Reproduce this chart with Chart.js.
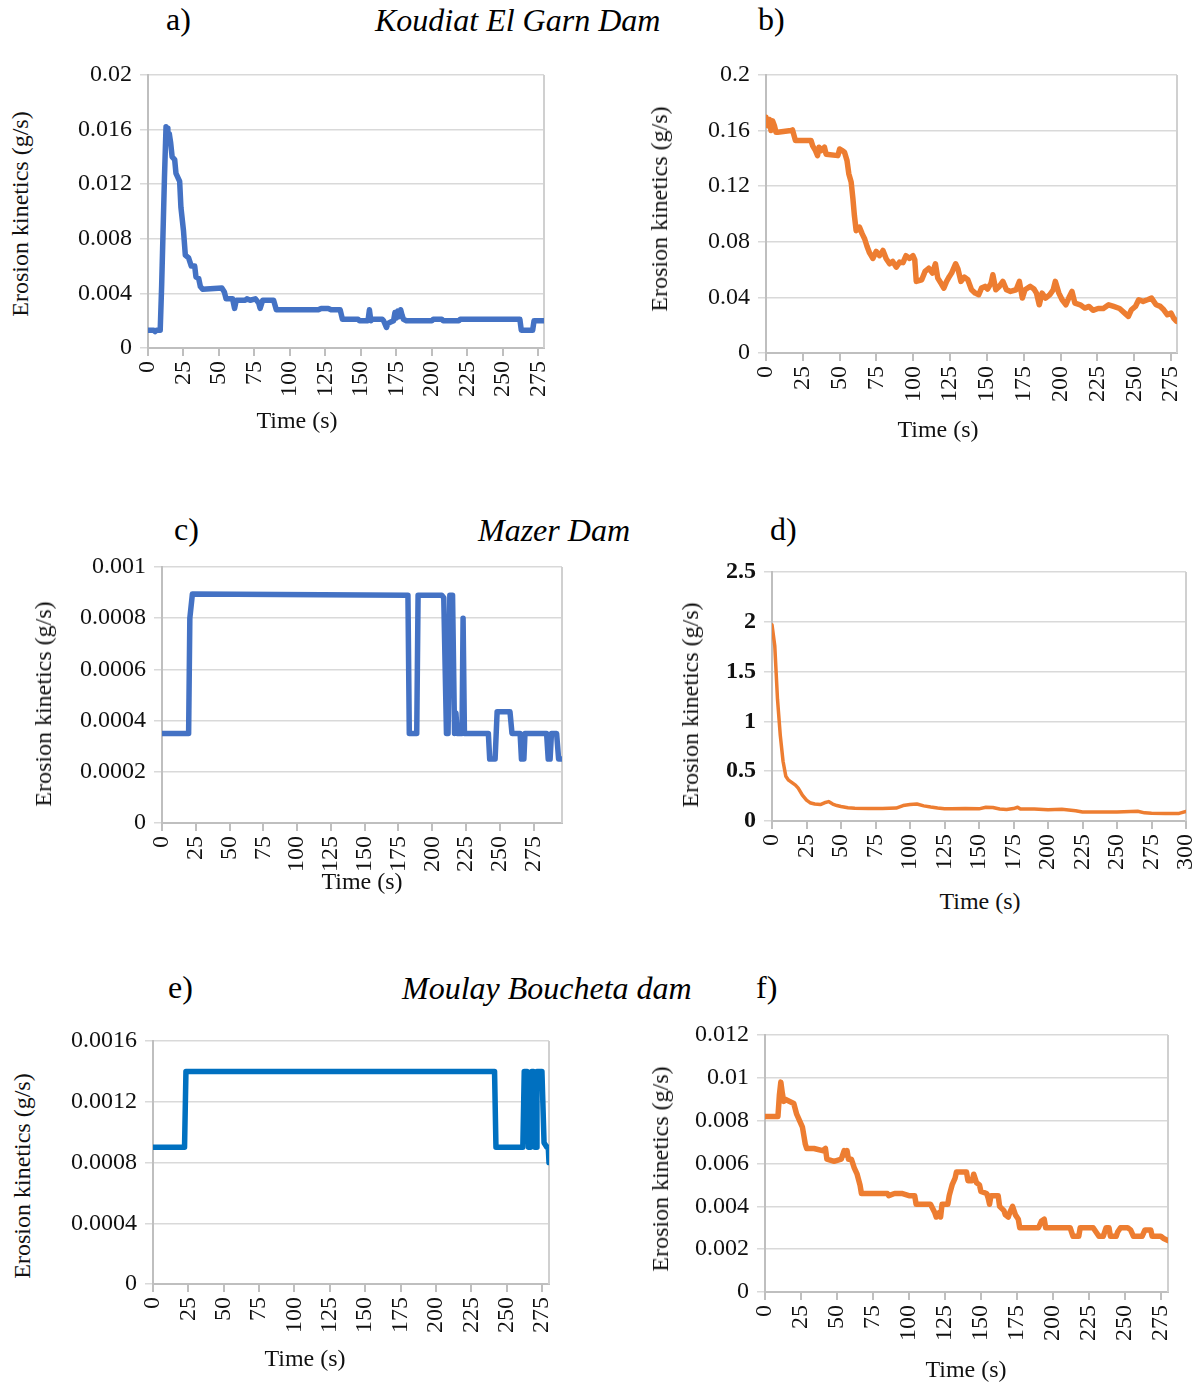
<!DOCTYPE html>
<html>
<head>
<meta charset="utf-8">
<title>Erosion kinetics</title>
<script src="https://cdn.jsdelivr.net/npm/chart.js@4.4.1/dist/chart.umd.min.js"></script>
<style>
  body { margin: 0; background: #fff; }
  #page {
    position: relative;
    width: 1204px;
    height: 1385px;
    background: #fff;
    font-family: "Liberation Serif", "Times New Roman", serif;
    color: #000;
    overflow: hidden;
  }
  #page canvas { position: absolute; }
  .tag, .dam {
    position: absolute;
    font-size: 32px;
    line-height: 38px;
    white-space: nowrap;
  }
  .dam { font-style: italic; }
  .axis-title {
    position: absolute;
    font-size: 24px;
    line-height: 28px;
    white-space: nowrap;
    color: #111;
    transform: translate(-50%, -50%);
  }
  .axis-title.vertical { transform: translate(-50%, -50%) rotate(-90deg); }
</style>
</head>
<body>
<div id="page">
  <div class="tag" style="left:166px;top:0px">a)</div>
  <div class="dam" style="left:375px;top:1px">Koudiat El Garn Dam</div>
  <div class="tag" style="left:758px;top:0px">b)</div>
  <div class="tag" style="left:174px;top:510px">c)</div>
  <div class="dam" style="left:478px;top:511px">Mazer Dam</div>
  <div class="tag" style="left:770px;top:510px">d)</div>
  <div class="tag" style="left:168px;top:968px">e)</div>
  <div class="dam" style="left:402px;top:969px">Moulay Boucheta dam</div>
  <div class="tag" style="left:756px;top:968px">f)</div>
</div>

<script>
// tick labels
const timeTicks = ["0", "25", "50", "75", "100", "125", "150", "175", "200", "225", "250", "275"];
const timeTicks300 = ["0", "25", "50", "75", "100", "125", "150", "175", "200", "225", "250", "275", "300"];
const rateTicksA = ["0", "0.004", "0.008", "0.012", "0.016", "0.02"];
const rateTicksB = ["0", "0.04", "0.08", "0.12", "0.16", "0.2"];
const rateTicksC = ["0", "0.0002", "0.0004", "0.0006", "0.0008", "0.001"];
const rateTicksD = ["0", "0.5", "1", "1.5", "2", "2.5"];
const rateTicksE = ["0", "0.0004", "0.0008", "0.0012", "0.0016"];
const rateTicksF = ["0", "0.002", "0.004", "0.006", "0.008", "0.01", "0.012"];

// a) Koudiat El Garn Dam, first sample
const timeA = [
  0, 4, 5, 6, 8.6, 9.6, 10.6, 11.6, 12.7, 13.5,
  14, 15, 16, 17, 18.8, 19.7, 21, 22.3, 23.2, 25,
  26.3, 28.6, 30.5, 32.9, 33.8, 35.7, 36.9, 38.5, 52, 53.8,
  55, 59.6, 61, 62.2, 68.5, 69.7, 72, 75.6, 78, 79,
  80.8, 88.5, 90.4, 120, 122, 127, 129, 135.4, 137, 148,
  149, 155, 156, 157, 158, 165, 166, 168, 169, 171,
  173, 174, 175, 176, 177, 178, 179, 180, 182, 200,
  201, 207, 208, 219, 220, 262, 263, 271, 272, 279
];
const rateA = [
  0.0013, 0.0013, 0.0012, 0.0013, 0.0013, 0.0045, 0.0085, 0.0125, 0.0162, 0.0161,
  0.0155, 0.0157, 0.015, 0.014, 0.0138, 0.0128, 0.0125, 0.0122, 0.0103, 0.0086,
  0.0068, 0.0066, 0.006, 0.006, 0.0052, 0.0051, 0.0045, 0.0043, 0.0044, 0.0041,
  0.0036, 0.0036, 0.0029, 0.0035, 0.0035, 0.0036, 0.0035, 0.0036, 0.0033, 0.0029,
  0.0035, 0.0035, 0.0028, 0.0028, 0.0029, 0.0029, 0.0028, 0.0028, 0.0021, 0.0021,
  0.002, 0.002, 0.0028, 0.002, 0.0021, 0.0021, 0.002, 0.0015, 0.0018, 0.0019,
  0.002, 0.0026, 0.0022, 0.0027, 0.0023, 0.0028, 0.0024, 0.0021, 0.002, 0.002,
  0.0021, 0.0021, 0.002, 0.002, 0.0021, 0.0021, 0.0013, 0.0013, 0.002, 0.002
];

// b) Koudiat El Garn Dam, second sample
const timeB = [
  0, 1.1, 2.3, 3.4, 4.5, 5.7, 6.8, 7.9, 17, 18,
  20, 30.6, 31.7, 33.6, 35, 36, 37.4, 39.7, 40.8, 48.8,
  50, 51.7, 53.3, 55, 56.2, 57.8, 59, 60, 61.2, 63.5,
  65.3, 67, 68.5, 70.3, 72.6, 74.8, 77, 79.4, 81.6, 83.9,
  86, 88.4, 90.7, 93, 95, 97.5, 99.8, 101, 102, 105.7,
  108, 110.5, 113, 115, 116.6, 119, 120.7, 122.6, 124.5, 126,
  128.7, 130.3, 132.3, 134.7, 137, 139.5, 142, 144.4, 146.3, 148.7,
  150.4, 152.8, 154, 156, 158.4, 160.8, 163.2, 166, 169.8, 172,
  174, 175.8, 179.4, 181.9, 183.6, 185.5, 187.4, 189.8, 192.7, 195,
  196.4, 198.8, 201, 203.6, 206, 207.7, 209.7, 213.3, 216.4, 219.3,
  222, 225.4, 229, 232.6, 236, 240, 243.5, 246, 248, 250.8,
  253, 256, 259, 261.7, 264.8, 267.7, 270, 272.5, 275, 276.7,
  278.6
];
const rateB = [
  0.1696, 0.1636, 0.168, 0.16, 0.167, 0.1636, 0.1588, 0.1588, 0.16, 0.1605,
  0.1528, 0.1528, 0.149, 0.1456, 0.142, 0.148, 0.1456, 0.148, 0.143, 0.142,
  0.1468, 0.1456, 0.1444, 0.1384, 0.129, 0.123, 0.111, 0.099, 0.088, 0.0905,
  0.0857, 0.082, 0.077, 0.072, 0.068, 0.0731, 0.07, 0.0738, 0.0678, 0.0642,
  0.0659, 0.0618, 0.0654, 0.065, 0.07, 0.068, 0.07, 0.067, 0.0515, 0.0527,
  0.0587, 0.061, 0.0575, 0.0642, 0.0539, 0.0498, 0.0467, 0.0515, 0.0551, 0.0575,
  0.0642, 0.0605, 0.0515, 0.0546, 0.0527, 0.0455, 0.0431, 0.0419, 0.0467, 0.0479,
  0.046, 0.0503, 0.0563, 0.0455, 0.0479, 0.0515, 0.0455, 0.0443, 0.0455, 0.0515,
  0.0395, 0.0455, 0.0479, 0.046, 0.0431, 0.0347, 0.0431, 0.0395, 0.042, 0.0455,
  0.0515, 0.0431, 0.0383, 0.0347, 0.0407, 0.0443, 0.0359, 0.0347, 0.0323, 0.0335,
  0.0307, 0.032, 0.032, 0.0347, 0.0335, 0.032, 0.0287, 0.0263, 0.0311, 0.0335,
  0.0383, 0.0371, 0.0383, 0.0395, 0.0347, 0.0335, 0.0311, 0.0275, 0.0287, 0.0251,
  0.0228
];

// c) Mazer Dam, first sample
const timeC = [
  0, 19.7, 20.6, 22.5, 182, 183, 188.5, 189.5, 207, 208.5,
  210.5, 211.7, 213, 215, 216.5, 217.5, 218.5, 222, 222.8, 223.8,
  241.5, 242.5, 246.5, 248, 257.5, 259, 265, 266, 267.8, 268.6,
  284.6, 285.8, 287.2, 288.2, 292, 293.5, 296
];
const rateC = [
  0.00035, 0.00035, 0.0008, 0.000895, 0.00089, 0.00035, 0.00035, 0.00089, 0.00089, 0.00088,
  0.00035, 0.00035, 0.00089, 0.00089, 0.00035, 0.00043, 0.00035, 0.00035, 0.0008, 0.00035,
  0.00035, 0.00025, 0.00025, 0.000435, 0.000435, 0.00035, 0.00035, 0.00025, 0.00025, 0.00035,
  0.00035, 0.00025, 0.00025, 0.00035, 0.00035, 0.00025, 0.00025
];

// d) Mazer Dam, second sample
const timeD = [
  0, 2, 4, 6, 8, 10, 12, 14, 17, 19,
  22, 25, 28, 31, 35, 38, 41, 44, 47, 50,
  55, 60, 70, 80, 90, 95, 100, 105, 110, 115,
  120, 125, 130, 140, 150, 155, 160, 165, 170, 175,
  178, 180, 190, 200, 210, 215, 220, 225, 230, 240,
  250, 260, 265, 270, 275, 285, 295, 300
];
const rateD = [
  1.97, 1.76, 1.22, 0.86, 0.6, 0.45, 0.41, 0.39, 0.36, 0.33,
  0.26, 0.21, 0.18, 0.17, 0.165, 0.183, 0.195, 0.17, 0.155, 0.145,
  0.133, 0.128, 0.126, 0.126, 0.13, 0.155, 0.165, 0.17, 0.152, 0.14,
  0.13, 0.123, 0.122, 0.126, 0.122, 0.138, 0.135, 0.12, 0.115, 0.125,
  0.138, 0.12, 0.12, 0.113, 0.118, 0.11, 0.102, 0.09, 0.09, 0.09,
  0.09, 0.095, 0.098, 0.082, 0.078, 0.075, 0.076, 0.095
];

// e) Moulay Boucheta dam, first sample
const timeE = [
  0, 22.3, 23.3, 241.5, 242.5, 261.5, 262.5, 264.5, 265.5, 267,
  267.8, 269, 270, 271, 271.5, 275, 276.5, 278.5, 279.5, 280
];
const rateE = [
  0.0009, 0.0009, 0.0014, 0.0014, 0.0009, 0.0009, 0.0014, 0.0014, 0.0009, 0.0009,
  0.0014, 0.0014, 0.0009, 0.0009, 0.0014, 0.0014, 0.00093, 0.0009, 0.0009, 0.0008
];

// f) Moulay Boucheta dam, second sample
const timeF = [
  0, 9, 10, 11, 12, 13, 14, 20, 22, 24,
  26, 27, 28, 29, 34, 40, 42, 43, 48, 53,
  55, 56, 57, 58, 60, 62, 64, 66, 67, 85,
  86, 90, 95, 100, 104, 105, 115, 118, 119, 121,
  122, 123, 127, 128, 130, 132, 133, 140, 141, 144,
  145, 147, 149, 150, 154, 155, 156, 157, 162, 163,
  166, 167, 169, 170, 172, 174, 176, 177, 190, 192,
  194, 195, 212, 214, 218, 219, 228, 230, 232, 235,
  237, 239, 240, 244, 245, 247, 252, 254, 256, 262,
  264, 268, 269, 275, 277, 280
];
const rateF = [
  0.0082, 0.0082, 0.0092, 0.0098, 0.0093, 0.0089, 0.009, 0.0088, 0.0083, 0.008,
  0.0077, 0.0073, 0.0069, 0.0067, 0.0067, 0.0066, 0.0067, 0.0062, 0.0061, 0.0062,
  0.0066, 0.0064, 0.0066, 0.0062, 0.0062, 0.0058, 0.0055, 0.005, 0.0046, 0.0046,
  0.0045, 0.0046, 0.0046, 0.0045, 0.0045, 0.0041, 0.0041, 0.0037, 0.0035, 0.0037,
  0.0035, 0.0041, 0.0041, 0.0045, 0.005, 0.0053, 0.0056, 0.0056, 0.0052, 0.0052,
  0.0055, 0.0051, 0.005, 0.0047, 0.0046, 0.0044, 0.0041, 0.0045, 0.0045, 0.004,
  0.0038, 0.0036, 0.0035, 0.0037, 0.004, 0.0036, 0.0034, 0.003, 0.003, 0.0033,
  0.0034, 0.003, 0.003, 0.0026, 0.0026, 0.003, 0.003, 0.0028, 0.0026, 0.0026,
  0.003, 0.003, 0.0026, 0.0026, 0.0028, 0.003, 0.003, 0.0029, 0.0026, 0.0026,
  0.0029, 0.0029, 0.0026, 0.0026, 0.0025, 0.0024
];

const BLUE = "#4472c4";
const DEEP_BLUE = "#0070c0";
const ORANGE = "#ed7d31";
const FONT = "Liberation Serif";

// plot box [left, top, right, bottom] in page pixels; yTitle / xTitle are the caption centres
const panels = [
  { box: [148, 75, 544, 348], yTitle: [20, 214], xTitle: [297, 420], xMax: 279,
    times: timeA, rates: rateA, xLabels: timeTicks, yLabels: rateTicksA, color: BLUE, width: 5.5 },
  { box: [766, 75, 1177, 353], yTitle: [659, 209], xTitle: [938, 429], xMax: 279,
    times: timeB, rates: rateB, xLabels: timeTicks, yLabels: rateTicksB, color: ORANGE, width: 5.5 },
  { box: [162, 567, 562, 823], yTitle: [43, 704], xTitle: [362, 881], xMax: 296,
    times: timeC, rates: rateC, xLabels: timeTicks, yLabels: rateTicksC, color: BLUE, width: 5.5 },
  { box: [772, 572, 1186, 821], yTitle: [690, 705], xTitle: [980, 901], xMax: 300,
    times: timeD, rates: rateD, xLabels: timeTicks300, yLabels: rateTicksD, color: ORANGE, width: 3.5, boldY: true },
  { box: [153, 1041, 549, 1284], yTitle: [22, 1176], xTitle: [305, 1358], xMax: 280,
    times: timeE, rates: rateE, xLabels: timeTicks, yLabels: rateTicksE, color: DEEP_BLUE, width: 5.5 },
  { box: [765, 1035, 1168, 1292], yTitle: [660, 1169], xTitle: [966, 1369], xMax: 280,
    times: timeF, rates: rateF, xLabels: timeTicks, yLabels: rateTicksF, color: ORANGE, width: 5.5 }
];

// room Chart.js asks for around the tick labels
const PAD_TOP = 24;
const PAD_RIGHT = 36;
const PAD_BOTTOM = 4;
const Y_SCALE_WIDTH = 110;
const X_SCALE_HEIGHT = 60;

// right edge of the plot area
const plotFrame = {
  id: "plotFrame",
  beforeDatasetsDraw(chart) {
    const { ctx, chartArea } = chart;
    ctx.save();
    ctx.strokeStyle = "#d0d0d0";
    ctx.lineWidth = 2;
    ctx.beginPath();
    ctx.moveTo(chartArea.right, chartArea.top);
    ctx.lineTo(chartArea.right, chartArea.bottom);
    ctx.stroke();
    ctx.restore();
  }
};

const page = document.getElementById("page");

function addCaption(text, pos, vertical) {
  const el = document.createElement("div");
  el.className = vertical ? "axis-title vertical" : "axis-title";
  el.textContent = text;
  el.style.left = pos[0] + "px";
  el.style.top = pos[1] + "px";
  page.appendChild(el);
}

function drawPanel(p) {
  const [l, t, r, b] = p.box;
  const left = l - Y_SCALE_WIDTH;
  const top = t - PAD_TOP;
  const width = r - left + PAD_RIGHT;
  const height = PAD_TOP + (b - t) + X_SCALE_HEIGHT + PAD_BOTTOM;

  const canvas = document.createElement("canvas");
  canvas.width = width;
  canvas.height = height;
  canvas.style.left = left + "px";
  canvas.style.top = top + "px";
  canvas.style.width = width + "px";
  canvas.style.height = height + "px";
  page.appendChild(canvas);

  const xFont = { family: FONT, size: 24 };
  const yFont = { family: FONT, size: 24, weight: p.boldY ? "bold" : "normal" };

  new Chart(canvas, {
    type: "line",
    data: {
      datasets: [{
        data: p.times.map((x, i) => ({ x: x, y: p.rates[i] })),
        borderColor: p.color,
        borderWidth: p.width,
        borderJoinStyle: "round",
        borderCapStyle: "round",
        pointRadius: 0,
        tension: 0,
        fill: false
      }]
    },
    options: {
      responsive: false,
      animation: false,
      devicePixelRatio: 1,
      layout: { padding: { top: PAD_TOP, right: PAD_RIGHT, bottom: PAD_BOTTOM, left: 0 } },
      plugins: { legend: { display: false }, tooltip: { enabled: false } },
      scales: {
        x: {
          type: "linear",
          min: 0,
          max: p.xMax,
          afterBuildTicks: (s) => { s.ticks = p.xLabels.map((v) => ({ value: Number(v) })); },
          afterFit: (s) => { s.height = X_SCALE_HEIGHT; },
          ticks: {
            autoSkip: false,
            minRotation: 90,
            maxRotation: 90,
            padding: 5,
            color: "#111",
            font: xFont,
            callback: (v, i) => p.xLabels[i]
          },
          grid: { drawOnChartArea: false, color: "#bfbfbf", lineWidth: 2, tickLength: 8 },
          border: { color: "#bfbfbf", width: 2 }
        },
        y: {
          min: 0,
          max: Number(p.yLabels[p.yLabels.length - 1]),
          afterBuildTicks: (s) => { s.ticks = p.yLabels.map((v) => ({ value: Number(v) })); },
          afterFit: (s) => { s.width = Y_SCALE_WIDTH; },
          ticks: {
            padding: 8,
            color: "#111",
            font: yFont,
            callback: (v, i) => p.yLabels[i]
          },
          grid: { color: "#d9d9d9", lineWidth: 1.5, tickLength: 8 },
          border: { color: "#bfbfbf", width: 2 }
        }
      }
    },
    plugins: [plotFrame]
  });

  addCaption("Erosion kinetics (g/s)", p.yTitle, true);
  addCaption("Time (s)", p.xTitle, false);
}

panels.forEach(drawPanel);
</script>
</body>
</html>
